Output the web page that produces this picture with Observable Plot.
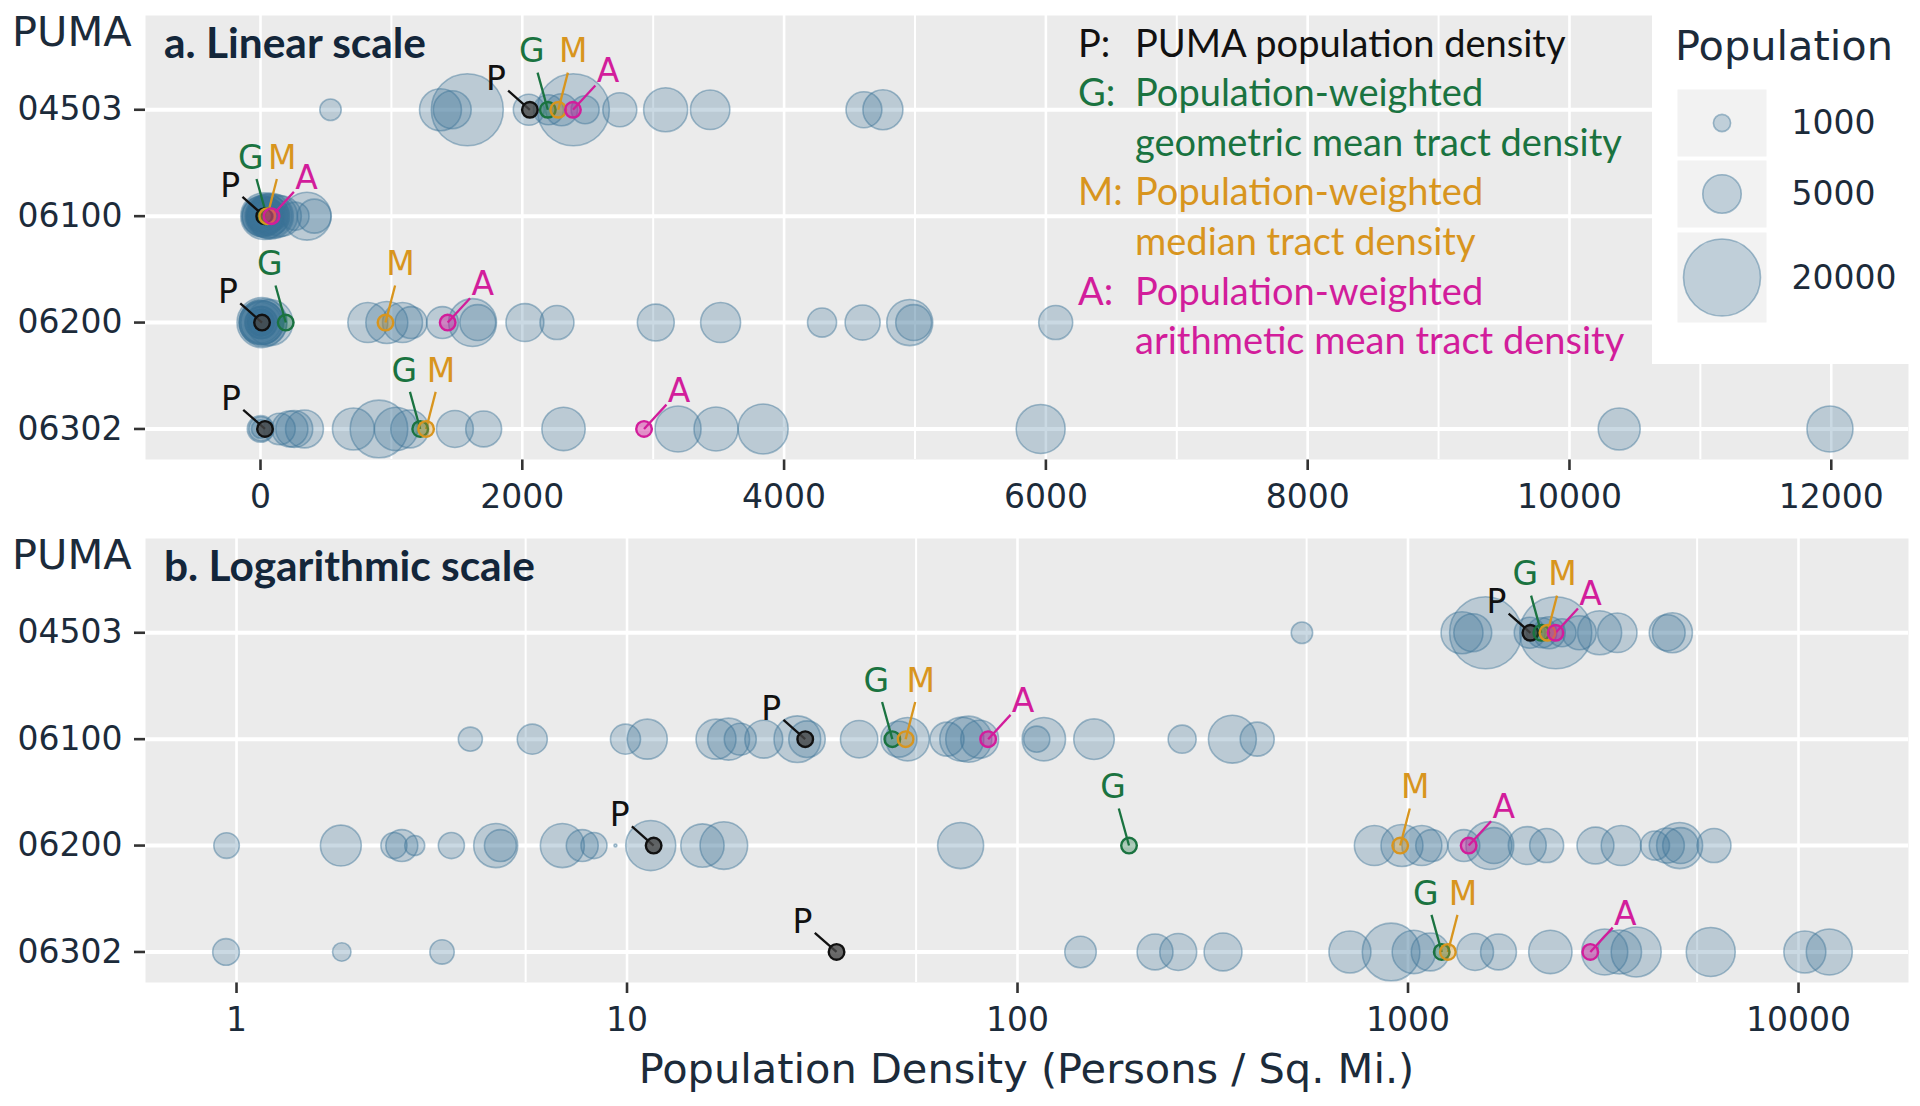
<!DOCTYPE html>
<html>
<head>
<meta charset="utf-8">
<script src="https://cdn.jsdelivr.net/npm/d3@7"></script>
<script src="https://cdn.jsdelivr.net/npm/@observablehq/plot@0.6"></script>
<style>
  html, body { margin: 0; padding: 0; background: #fff; }
  #root { position: relative; width: 1920px; height: 1106px; overflow: hidden; background: #fff; }
  .abs { position: absolute; }
  .abs svg { overflow: visible; }
  #root [aria-label^="x-axis"] line, #root [aria-label^="x-axis"] path,
  #root [aria-label^="y-axis"] line, #root [aria-label^="y-axis"] path { stroke-width: 2.6px; stroke: #333; }
</style>
</head>
<body>
<div id="root"></div>
<script>
// ---------------- data ----------------
const pumas = ["04503", "06100", "06200", "06302"];

const density04503 = [535, 1375, 1465, 1580, 2050, 2200, 2300, 2390, 2480, 2745, 3095, 3435, 4610, 4755];
const population04503 = [1550, 5950, 4850, 17500, 3250, 3050, 3450, 17500, 2650, 3900, 6550, 5250, 4350, 5400];

const density06100 = [3.97, 5.72, 9.91, 11.27, 16.9, 18.2, 19.5, 22.4, 27.3, 28.9, 39.3, 49.7, 52.3, 66, 72, 75, 80, 112, 116.8, 157, 264, 355, 411];
const population06100 = [1950, 3050, 3050, 5400, 5400, 5950, 3450, 4850, 7350, 4500, 4700, 4350, 6350, 3900, 6550, 7150, 4850, 2300, 6350, 5550, 2650, 7750, 3900];

const density06200 = [0.943, 1.85, 2.53, 2.65, 2.86, 3.55, 4.61, 4.74, 6.83, 7.68, 8.23, 9.34, 11.5, 15.6, 17.7, 71.5, 820, 965, 1085, 1150, 1390, 1620, 1660, 2020, 2265, 3020, 3515, 4290, 4600, 4960, 4990, 6075];
const population06200 = [2200, 5650, 2300, 3450, 1350, 2300, 6550, 3450, 6550, 3450, 2300, 30, 8450, 6350, 7650, 7150, 5400, 5950, 5400, 3450, 3450, 7750, 4350, 4850, 3900, 4600, 5400, 2850, 4150, 7150, 4350, 3900];

const density06302 = [0.94, 1.86, 3.36, 145, 225, 258, 336, 710, 905, 1035, 1140, 1485, 1705, 2315, 3190, 3480, 3840, 5960, 10380, 11990];
const population06302 = [2400, 1150, 2000, 3350, 4350, 4600, 4850, 5950, 11200, 6350, 4850, 4600, 4350, 6350, 7150, 6550, 8450, 8100, 5950, 7150];

// summary densities per PUMA (same order as pumas)
const pumaDensity      = [2058, 28.6, 11.7, 34.4];
const geoMeanDensity   = [2195, 47.8, 193, 1220];
const medianDensity    = [2275, 51.7, 955, 1265];
const arithMeanDensity = [2387, 84.1, 1430, 2930];

const linearTicks = [0, 2000, 4000, 6000, 8000, 10000, 12000];
const linearMinor = [1000, 3000, 5000, 7000, 9000, 11000];
const logTicks = [1, 10, 100, 1000, 10000];
const logMinor = [5.5, 55, 550, 5500];
const legendValues = [1000, 5000, 20000];

const noteLines = [
  ["P:", "PUMA population density", "P"],
  ["G:", "Population-weighted", "G"],
  ["", "geometric mean tract density", "G"],
  ["M:", "Population-weighted", "M"],
  ["", "median tract density", "M"],
  ["A:", "Population-weighted", "A"],
  ["", "arithmetic mean tract density", "A"]
];

// ---------------- styles ----------------
const tractColor = "#3b7396";
const ink = "#1c2b3a";
const typeColor = {P: "#111111", G: "#1a7340", M: "#d8951e", A: "#d21d9b"};
const typeFill = {P: "rgba(70,70,70,0.8)", G: "rgba(26,115,64,0.35)", M: "rgba(216,149,30,0.35)", A: "rgba(210,29,155,0.45)"};
const labelOffset = {P: [-34, -30], G: [-16, -58], M: [15, -58], A: [35, -38]};
const segFrac = 0.64;
const rOpts = {type: "sqrt", domain: [0, 20000], range: [0, 38.5]};
const yDomain = [3.287, -0.886];
const RANGE_X = [145, 1908];
const RANGE_Y = [459, 15];

const tracts = [[density04503, population04503], [density06100, population06100], [density06200, population06200], [density06302, population06302]]
  .flatMap(([ds, ps], row) => ds.map((d, j) => ({row, puma: pumas[row], density: d, pop: ps[j]})));

const markerSets = [["P", pumaDensity], ["G", geoMeanDensity], ["M", medianDensity], ["A", arithMeanDensity]];
const markers = markerSets.flatMap(([type, arr]) => arr.map((x, row) => ({type, row, x})));

function panel(xOpts, major, minor) {
  const xs = Plot.scale({x: {...xOpts, range: RANGE_X}});
  const ys = Plot.scale({y: {domain: yDomain, range: RANGE_Y}});
  const segs = markers.map(d => {
    const o = labelOffset[d.type];
    return {...d,
      x2: xs.invert(xs.apply(d.x) + o[0] * segFrac),
      y2: ys.invert(ys.apply(d.row) + o[1] * segFrac)};
  });
  const marks = [
    Plot.frame({fill: "#ebebeb", stroke: "none"}),
    Plot.ruleX(minor, {x: d => d, stroke: "white", strokeWidth: 2}),
    Plot.ruleX(major, {x: d => d, stroke: "white", strokeWidth: 2.6}),
    Plot.ruleY([0, 1, 2, 3], {y: d => d, stroke: "white", strokeWidth: 4}),
    Plot.dot(tracts, {x: "density", y: "row", r: "pop", fill: tractColor, fillOpacity: 0.27,
      stroke: tractColor, strokeOpacity: 0.45, strokeWidth: 1.6}),
    Plot.link(segs, {x1: "x", y1: "row", x2: "x2", y2: "y2", stroke: d => typeColor[d.type], strokeWidth: 2.3})
  ];
  for (const [type] of markerSets) {
    marks.push(Plot.dot(markers.filter(d => d.type === type), {x: "x", y: "row", r: 7.8,
      fill: typeFill[type], stroke: typeColor[type], strokeWidth: 2.4}));
  }
  for (const [type] of markerSets) {
    const o = labelOffset[type];
    marks.push(Plot.text(markers.filter(d => d.type === type), {x: "x", y: "row", text: "type",
      dx: o[0], dy: o[1], fill: typeColor[type], fontSize: 33, fontFamily: "DejaVu Sans"}));
  }
  return Plot.plot({
    width: 1920, height: 523,
    marginTop: 15, marginBottom: 64, marginLeft: 145, marginRight: 12,
    style: {background: "transparent", fontFamily: "DejaVu Sans", fontSize: "33px", color: ink, overflow: "visible"},
    x: {...xOpts, range: RANGE_X, ticks: major, tickFormat: d => String(d), tickSize: 11, tickPadding: 14, label: null},
    y: {domain: yDomain, range: RANGE_Y, ticks: [0, 1, 2, 3], tickFormat: i => pumas[i], tickSize: 11, tickPadding: 12, label: null},
    r: rOpts,
    marks
  });
}

const root = document.getElementById("root");
function place(el, left, top, z) {
  const d = document.createElement("div");
  d.className = "abs";
  d.style.left = left + "px"; d.style.top = top + "px"; d.style.zIndex = z;
  d.appendChild(el);
  root.appendChild(d);
  return d;
}

place(panel({type: "linear", domain: [-878.5, 12590]}, linearTicks, linearMinor), 0, 0, 1);
place(panel({type: "log", domain: [0.58468, 19128]}, logTicks, logMinor), 0, 523, 1);

// legend background (white box over panel corner)
const bg = document.createElement("div");
bg.style.cssText = "width:268px;height:364px;background:#fff;";
place(bg, 1652, 0, 2);

const keyBoxes = [[89, 67], [160, 67], [232, 90]];
legendValues.forEach((v, k) => {
  const [top, h] = keyBoxes[k];
  const svg = Plot.plot({
    width: 89, height: h, margin: 0,
    style: {background: "transparent", overflow: "visible"},
    r: rOpts,
    marks: [
      Plot.frame({fill: "#f2f2f2", stroke: "none"}),
      Plot.dot([v], {frameAnchor: "middle", r: d => d, fill: tractColor, fillOpacity: 0.27,
        stroke: tractColor, strokeOpacity: 0.45, strokeWidth: 1.6})
    ]
  });
  place(svg, 1677, top, 3);
});

// ---------------- text overlay ----------------
function fit(text, weight, family, target) {
  const c = document.createElement("canvas").getContext("2d");
  c.font = `${weight} 100px ${family}`;
  return 100 * target / c.measureText(text).width;
}
const titleSize = fit("a. Linear scale", "bold", "Lato", 263);
const noteSize = fit("PUMA population density", "normal", "Lato", 432);

const NS = "http://www.w3.org/2000/svg";
const ov = document.createElementNS(NS, "svg");
ov.setAttribute("width", 1920); ov.setAttribute("height", 1106);
ov.style.cssText = "position:absolute;left:0;top:0;z-index:5;pointer-events:none;overflow:visible";
function txt(s, x, y, o = {}) {
  const t = document.createElementNS(NS, "text");
  t.textContent = s;
  t.setAttribute("x", x); t.setAttribute("y", y);
  t.setAttribute("font-family", o.family || "DejaVu Sans");
  t.setAttribute("font-size", o.size || 41.5);
  t.setAttribute("fill", o.fill || ink);
  if (o.weight) t.setAttribute("font-weight", o.weight);
  if (o.anchor) t.setAttribute("text-anchor", o.anchor);
  if (o.baseline) t.setAttribute("dominant-baseline", o.baseline);
  ov.appendChild(t);
}
txt("PUMA", 12, 45.5);
txt("PUMA", 12, 568.5);
txt("a. Linear scale", 164, 58, {family: "Lato", weight: "bold", size: titleSize, fill: "#13263a"});
txt("b. Logarithmic scale", 164, 581, {family: "Lato", weight: "bold", size: titleSize, fill: "#13263a"});
noteLines.forEach(([pre, body, type], i) => {
  const y = 56.5 + i * 49.6;
  if (pre) txt(pre, 1078, y, {family: "Lato", size: noteSize, fill: typeColor[type]});
  txt(body, 1135, y, {family: "Lato", size: noteSize, fill: typeColor[type]});
});
txt("Population Density (Persons / Sq. Mi.)", 1026.5, 1082.5, {anchor: "middle"});
txt("Population", 1675, 60);
legendValues.forEach((v, k) => {
  const [top, h] = keyBoxes[k];
  txt(String(v), 1791.5, top + h / 2, {size: 33, baseline: "central"});
});
root.appendChild(ov);
</script>
</body>
</html>
